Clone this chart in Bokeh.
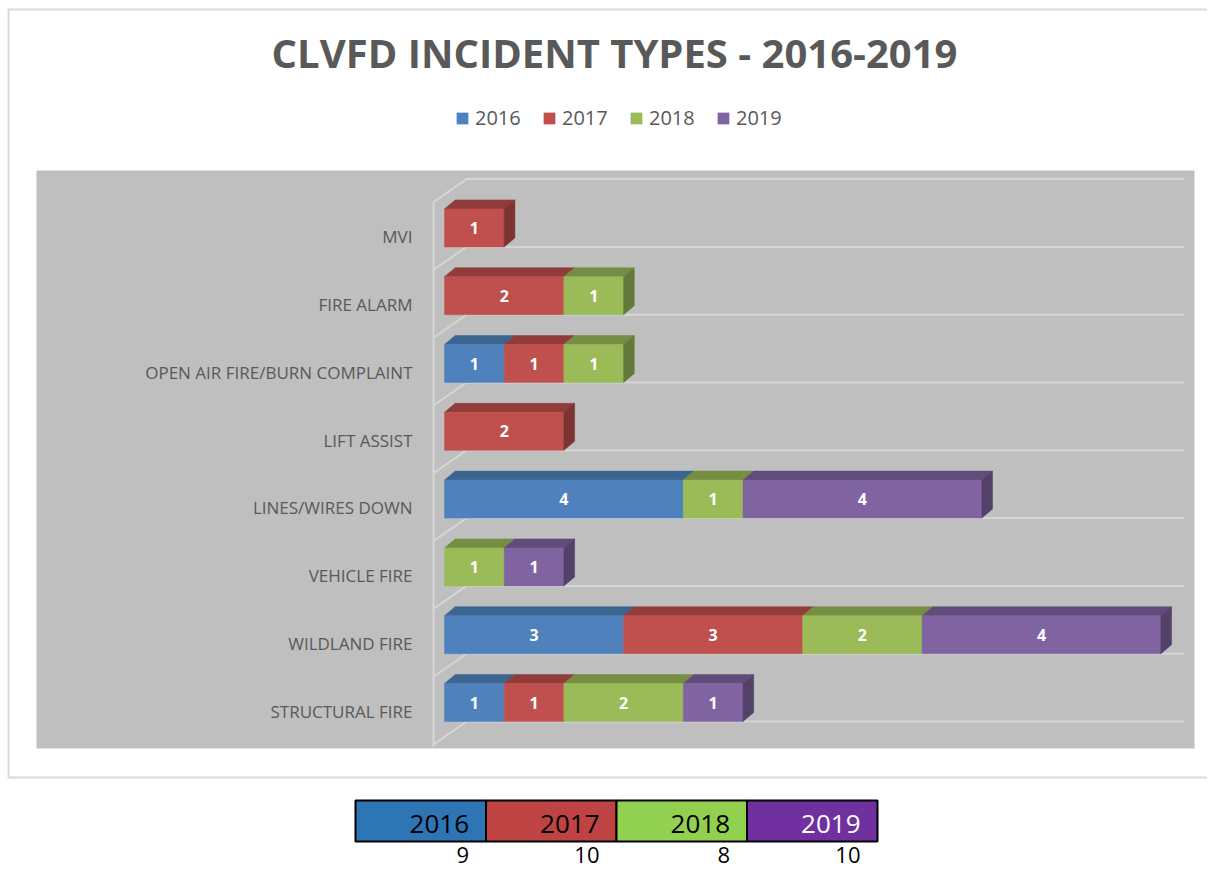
import numpy as np
from bokeh.plotting import figure
from bokeh.models import Range1d, Legend, LegendItem, ColumnDataSource
from bokeh.core.properties import value
from bokeh.embed import file_html
from bokeh.resources import INLINE

# ---------------- data ----------------
title_text = "CLVFD INCIDENT TYPES - 2016-2019"
categories = ["STRUCTURAL FIRE", "WILDLAND FIRE", "VEHICLE FIRE", "LINES/WIRES DOWN",
              "LIFT ASSIST", "OPEN AIR FIRE/BURN COMPLAINT", "FIRE ALARM", "MVI"]
years = ["2016", "2017", "2018", "2019"]
v2016 = [1, 3, 0, 4, 0, 1, 0, 0]
v2017 = [1, 3, 0, 0, 2, 1, 2, 1]
v2018 = [2, 2, 1, 1, 0, 1, 1, 0]
v2019 = [1, 4, 1, 4, 0, 0, 0, 0]
series = [v2016, v2017, v2018, v2019]
totals = [sum(s) for s in series]

# ---------------- styles ----------------
front_colors = ["#4F81BD", "#C0504D", "#9BBB59", "#8064A2"]
top_colors = ["#3C6590", "#913C3A", "#768E44", "#614C7B"]
side_colors = ["#33567B", "#7C3331", "#657A3A", "#534169"]
table_colors = ["#2E75B6", "#BF4343", "#92D050", "#7030A0"]
table_text_colors = ["black", "black", "black", "white"]
TEXT_GREY = "#595959"

# ---------------- layout ----------------
W, H = 1207, 870
OFF = 0
X0, UX = 444.0, 59.7      # px of value 0, px per unit
Y0, UY = 702.0, 67.8      # px of first category center, px per category
BAR_H = 38.0 / UY
DX, DY = 10.7 / UX, 9.0 / UY

x_range = Range1d((OFF - X0) / UX, (OFF + W - X0) / UX)
y_range = Range1d((Y0 - (OFF + H)) / UY, (Y0 - OFF) / UY)

p = figure(width=W, height=H, x_range=x_range, y_range=y_range,
           x_axis_type=None, y_axis_type=None, toolbar_location=None,
           output_backend="svg", min_border=0, outline_line_color=None,
           background_fill_color="white", border_fill_color="white")
p.extra_x_ranges = {"px": Range1d(OFF, OFF + W)}
p.extra_y_ranges = {"px": Range1d(OFF + H, OFF)}
PX = dict(x_range_name="px", y_range_name="px")

# chart frame and plot area
p.quad(left=[8], right=[1240], top=[9], bottom=[777], fill_color=None,
       line_color="#D9D9D9", line_width=2, **PX)
p.quad(left=[36], right=[1194], top=[170], bottom=[748], fill_color="#BFBFBF",
       line_color=None, **PX)

# 3D walls / gridlines (data units)
n = len(categories)
wall_x0 = (433 - X0) / UX
wall_x1 = (466 - X0) / UX
grid_end = (1184 - X0) / UX
wall_drop = 23.0 / UY
levels = [k - BAR_H / 2 for k in range(n + 1)]
gx, gy = [], []
for g in levels:
    gx.append([wall_x0, wall_x1, grid_end])
    gy.append([g - wall_drop, g, g])
gx.append([wall_x0, wall_x0])
gy.append([levels[0] - wall_drop - 0.03, levels[-1] - wall_drop])
p.multi_line(xs=gx, ys=gy, line_color="#D6D6D6", line_width=2)

# bars
cats_idx = list(range(n))
lefts = np.zeros(n)
renderers = []
last_seg = [None] * n
for j, s in enumerate(series):
    vals = np.array(s, dtype=float)
    mask = vals > 0
    l = lefts[mask]
    r = (lefts + vals)[mask]
    ys = np.array(cats_idx)[mask]
    src = ColumnDataSource(dict(y=ys, left=l, right=r,
                                xm=(l + r) / 2, lab=[str(int(v)) for v in vals[mask]]))
    # top faces
    t = ys + BAR_H / 2
    p.patches(xs=[[a, b, b + DX, a + DX] for a, b in zip(l, r)],
              ys=[[tt, tt, tt + DY, tt + DY] for tt in t],
              fill_color=top_colors[j], line_color=top_colors[j], line_width=0.5)
    rr = p.hbar(y="y", left="left", right="right", height=BAR_H, source=src,
                fill_color=front_colors[j], line_color=front_colors[j], line_width=0.5)
    renderers.append(rr)
    p.text(x="xm", y="y", text="lab", source=src, text_color="white",
           text_font=value("Open Sans"), text_font_style="bold", text_font_size="16px",
           text_align="center", text_baseline="middle")
    for i in range(n):
        if vals[i] > 0:
            last_seg[i] = (j, lefts[i] + vals[i])
    lefts = lefts + vals

# side faces on the end of each bar
sx, sy, sc = [], [], []
for i in range(n):
    if last_seg[i] is None:
        continue
    j, r = last_seg[i]
    b, t = i - BAR_H / 2, i + BAR_H / 2
    sx.append([r, r + DX, r + DX, r])
    sy.append([b, b + DY, t + DY, t])
    sc.append(side_colors[j])
p.patches(xs=sx, ys=sy, fill_color=sc, line_color=sc, line_width=0.5)

# category labels
p.text(x=[(412 - X0) / UX] * n, y=[i - 0.13 for i in cats_idx], text=categories,
       text_color=TEXT_GREY, text_font=value("Open Sans"), text_font_size="17px",
       text_align="right", text_baseline="middle")

# title
p.text(x=[614], y=[52], text=[title_text], text_color=TEXT_GREY,
       text_font=value("Open Sans"), text_font_style="bold", text_font_size="40px",
       text_align="center", text_baseline="middle", **PX)

# legend
legend = Legend(items=[LegendItem(label=y, renderers=[r]) for y, r in zip(years, renderers)],
                orientation="horizontal", location=(455 - OFF, H - (131 - OFF)),
                glyph_width=14, glyph_height=14, label_standoff=6, label_width=46,
                spacing=21, padding=0, margin=0, border_line_color=None,
                background_fill_alpha=0, label_text_font="Open Sans",
                label_text_font_size="20px", label_text_color=TEXT_GREY)
p.add_layout(legend)

# summary table below chart
cell_l, cell_w, cell_t, cell_b = 355.0, 130.5, 800.0, 841.0
lefts_t = [cell_l + k * cell_w for k in range(len(years))]
p.quad(left=lefts_t, right=[a + cell_w for a in lefts_t], top=[cell_t] * 4,
       bottom=[cell_b] * 4, fill_color=table_colors, line_color="black", line_width=2, **PX)
p.text(x=[a + cell_w - 17 for a in lefts_t], y=[(cell_t + cell_b) / 2 + 3] * 4, text=years,
       text_color=table_text_colors, text_font=value("Open Sans"), text_font_size="26px",
       text_align="right", text_baseline="middle", **PX)
p.text(x=[a + cell_w - 17 for a in lefts_t], y=[854] * 4, text=[str(t) for t in totals],
       text_color="black", text_font=value("Open Sans"), text_font_size="22px",
       text_align="right", text_baseline="middle", **PX)

open("out.html", "w").write(file_html(p, INLINE))
